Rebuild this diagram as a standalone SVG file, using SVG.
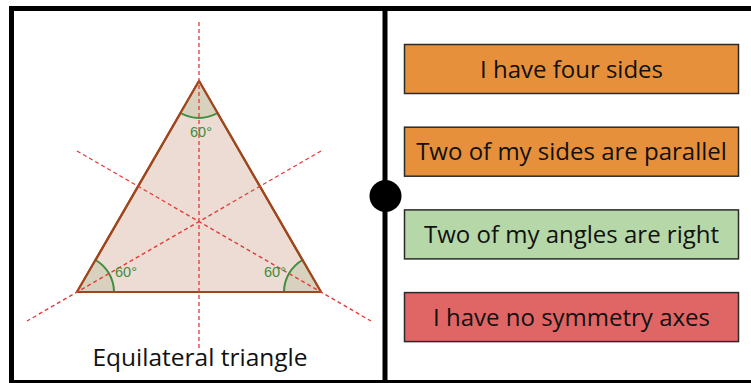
<svg xmlns="http://www.w3.org/2000/svg" width="751" height="383" viewBox="0 0 751 383">
<style>
.frame{fill:none;stroke:#000;stroke-width:5}
.axis{fill:none;stroke:#e53935;stroke-width:1.3;stroke-dasharray:4 3}
.tri{fill:#ecdcd4;stroke:#a0461c;stroke-width:2.2;stroke-linejoin:round}
.sector{fill:#d8d1be;stroke:none}
.arc{fill:none;stroke:#3d8e3d;stroke-width:2}
.deg{font-family:"Liberation Sans",Arial,sans-serif;font-size:14.5px;fill:#3d8e3d}
.box{stroke:#2a2a2a;stroke-width:1.5}
.lbl{font-family:"Open Sans","Noto Sans",sans-serif;font-size:24px;fill:#111;text-anchor:middle}
</style>
<rect width="751" height="383" fill="#fff"/>
<g id="frame">
<rect class="frame" x="11.5" y="8.5" width="760" height="374"/>
<line class="frame" x1="385" y1="8.5" x2="385" y2="383"/>
<circle cx="385.5" cy="196" r="16" fill="#000"/>
</g>
<g id="triangle">
<polygon class="tri" points="199,81 77,292 321,292"/>
<path class="sector" d="M199,81 L180.5,113 A37,37 0 0 0 217.5,113 Z"/>
<path class="arc" d="M180.5,113 A37,37 0 0 0 217.5,113"/>
<path class="sector" d="M77,292 L95.5,260 A37,37 0 0 1 114,292 Z"/>
<path class="arc" d="M95.5,260 A37,37 0 0 1 114,292"/>
<path class="sector" d="M321,292 L302.5,260 A37,37 0 0 0 284,292 Z"/>
<path class="arc" d="M302.5,260 A37,37 0 0 0 284,292"/>
<polygon points="199,81 77,292 321,292" fill="none" stroke="#a0461c" stroke-width="2.2" stroke-linejoin="round"/>
</g>
<g id="axes">
<line class="axis" x1="199" y1="22" x2="199" y2="349"/>
<line class="axis" x1="77" y1="151" x2="371" y2="321"/>
<line class="axis" x1="321" y1="151" x2="27" y2="321"/>
</g>
<g id="angle-labels">
<text class="deg" x="190" y="137">60°</text>
<text class="deg" x="115" y="277">60°</text>
<text class="deg" x="264" y="277">60°</text>
</g>
<g id="caption">
<text x="200" y="366" style="font-family:'Open Sans','Noto Sans',sans-serif;font-size:24.5px;fill:#111;text-anchor:middle">Equilateral triangle</text>
</g>
<g id="box1">
<rect class="box" x="404.5" y="44.5" width="334" height="49" fill="#e6903b"/>
<text class="lbl" x="571.5" y="77.5">I have four sides</text>
</g>
<g id="box2">
<rect class="box" x="404.5" y="127.2" width="334" height="49" fill="#e6903b"/>
<text class="lbl" x="571.5" y="160.2">Two of my sides are parallel</text>
</g>
<g id="box3">
<rect class="box" x="404.5" y="209.9" width="334" height="49" fill="#b6d7a8"/>
<text class="lbl" x="571.5" y="242.9">Two of my angles are right</text>
</g>
<g id="box4">
<rect class="box" x="404.5" y="292.6" width="334" height="49" fill="#e06666"/>
<text class="lbl" x="571.5" y="325.6">I have no symmetry axes</text>
</g>
</svg>
